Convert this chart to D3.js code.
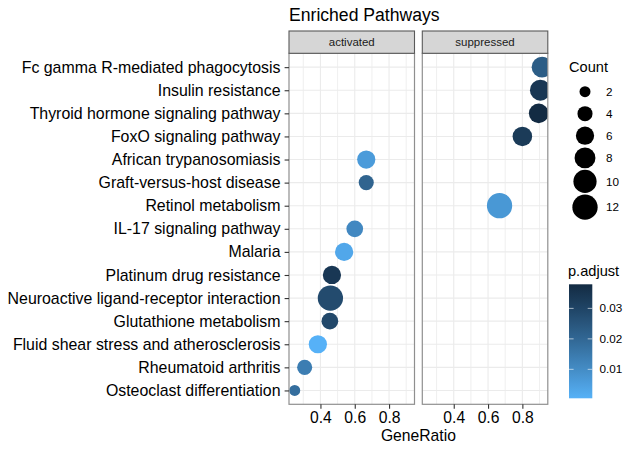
<!DOCTYPE html>
<html>
<head>
<meta charset="utf-8">
<script src="https://cdn.jsdelivr.net/npm/d3@7"></script>
<style>
  html, body { margin: 0; padding: 0; background: #fff; }
  svg { display: block; font-family: "Liberation Sans", Arial, Helvetica, sans-serif; }
</style>
</head>
<body>
<svg id="chart" width="637" height="452"></svg>
<script>
// ---- data ----
const pathways = [
  "Fc gamma R-mediated phagocytosis",
  "Insulin resistance",
  "Thyroid hormone signaling pathway",
  "FoxO signaling pathway",
  "African trypanosomiasis",
  "Graft-versus-host disease",
  "Retinol metabolism",
  "IL-17 signaling pathway",
  "Malaria",
  "Platinum drug resistance",
  "Neuroactive ligand-receptor interaction",
  "Glutathione metabolism",
  "Fluid shear stress and atherosclerosis",
  "Rheumatoid arthritis",
  "Osteoclast differentiation"
];
const groups = ["suppressed","suppressed","suppressed","suppressed","activated","activated","suppressed",
                "activated","activated","activated","activated","activated","activated","activated","activated"];
const geneRatio = [0.915, 0.905, 0.895, 0.8, 0.667, 0.667, 0.667, 0.6, 0.538, 0.467, 0.458, 0.455, 0.385, 0.308, 0.25];
const counts    = [8, 8, 7, 7, 6, 4, 12, 5, 6, 6, 12, 5, 6, 4, 2];
const pAdjust   = [0.023, 0.034, 0.0379, 0.033, 0.006, 0.021, 0.007, 0.011, 0.003, 0.034, 0.028, 0.029, 0.0005, 0.014, 0.018];

const facets = ["activated", "suppressed"];
const xTicks = [0.4, 0.6, 0.8];
const xMinor = [0.3, 0.5, 0.7, 0.9];
const countBreaks = [2, 4, 6, 8, 10, 12];
const pBreaks = [0.01, 0.02, 0.03];
const titleText = "Enriched Pathways";
const xTitle = "GeneRatio";

const data = pathways.map((p, i) => ({
  pathway: p, group: groups[i], ratio: geneRatio[i], count: counts[i], p: pAdjust[i]
}));

// ---- layout ----
const svg = d3.select("#chart");
const panelTop = 53.3, panelBottom = 404.3;
const panelX = [289, 422.3];
const panelW = 125.5;
const stripTop = 31;
const FONT = '"Liberation Sans", Arial, Helvetica, sans-serif';

// scales
const ext = d3.extent(geneRatio);
const pad = (ext[1] - ext[0]) * 0.05;
const x = d3.scaleLinear().domain([ext[0] - pad, ext[1] + pad]).range([0, panelW]);
const y = d3.scalePoint().domain(pathways).range([panelTop, panelBottom]).padding(0.6);
const size = d3.scaleSqrt().domain(d3.extent(counts)).range([0, 1]);
const diam = c => 11 + 14.3 * size(c);
const pExt = d3.extent(pAdjust);
const color = d3.scaleLinear().domain(pExt).range(["#56B1F7", "#132B43"]).interpolate(d3.interpolateLab);

// title
svg.append("text").attr("x", 289).attr("y", 21).attr("font-size", 17.6).attr("fill", "#000").text(titleText);

// panels
facets.forEach((f, fi) => {
  const g = svg.append("g").attr("transform", `translate(${panelX[fi]},0)`);
  g.append("rect").attr("x", 0).attr("y", panelTop).attr("width", panelW).attr("height", panelBottom - panelTop).attr("fill", "#fff");
  g.selectAll(".minor").data(xMinor.filter(v => x(v) > 0 && x(v) < panelW)).enter().append("line")
    .attr("x1", d => x(d)).attr("x2", d => x(d)).attr("y1", panelTop).attr("y2", panelBottom)
    .attr("stroke", "#ebebeb").attr("stroke-width", 0.8);
  g.selectAll(".majx").data(xTicks).enter().append("line")
    .attr("x1", d => x(d)).attr("x2", d => x(d)).attr("y1", panelTop).attr("y2", panelBottom)
    .attr("stroke", "#ebebeb").attr("stroke-width", 1.1);
  g.selectAll(".majy").data(pathways).enter().append("line")
    .attr("x1", 0).attr("x2", panelW).attr("y1", d => y(d)).attr("y2", d => y(d))
    .attr("stroke", "#ebebeb").attr("stroke-width", 1.1);
  const clipId = "clip" + fi;
  g.append("clipPath").attr("id", clipId).append("rect")
    .attr("x", 0).attr("y", panelTop).attr("width", panelW).attr("height", panelBottom - panelTop);
  g.append("g").attr("clip-path", `url(#${clipId})`)
    .selectAll("circle").data(data.filter(d => d.group === f)).enter().append("circle")
    .attr("cx", d => x(d.ratio)).attr("cy", d => y(d.pathway))
    .attr("r", d => diam(d.count) / 2).attr("fill", d => color(d.p));
  g.append("rect").attr("x", 0).attr("y", panelTop).attr("width", panelW).attr("height", panelBottom - panelTop)
    .attr("fill", "none").attr("stroke", "#8f8f8f").attr("stroke-width", 1.2);
  g.append("rect").attr("x", 0).attr("y", stripTop).attr("width", panelW).attr("height", panelTop - stripTop)
    .attr("fill", "#d6d6d6").attr("stroke", "#5a5a5a").attr("stroke-width", 1.1);
  g.append("text").attr("x", panelW / 2).attr("y", (stripTop + panelTop) / 2).attr("dy", "0.35em")
    .attr("text-anchor", "middle").attr("font-size", 11.5).attr("fill", "#1a1a1a").text(f);
  const ax = g.append("g").attr("transform", `translate(0,${panelBottom})`)
    .call(d3.axisBottom(x).tickValues(xTicks).tickFormat(d3.format(".1f")).tickSize(4.4).tickSizeOuter(0));
  ax.select(".domain").remove();
  ax.selectAll(".tick line").attr("stroke", "#333").attr("stroke-width", 1.1);
  ax.selectAll(".tick text").attr("font-family", FONT).attr("font-size", 15.7).attr("fill", "#000").attr("y", 7.5);
});

// y axis
const ay = svg.append("g").attr("transform", `translate(${panelX[0]},0)`)
  .call(d3.axisLeft(y).tickSize(4.4).tickSizeOuter(0));
ay.select(".domain").remove();
ay.selectAll(".tick line").attr("stroke", "#333").attr("stroke-width", 1.1);
ay.selectAll(".tick text").attr("font-family", FONT).attr("font-size", 15.9).attr("fill", "#000").attr("x", -8.5);

// x title
svg.append("text").attr("x", (panelX[0] + panelX[1] + panelW) / 2).attr("y", 441)
  .attr("text-anchor", "middle").attr("font-size", 15.7).attr("fill", "#000").text(xTitle);

// size legend
svg.append("text").attr("x", 569).attr("y", 72).attr("font-size", 14.6).attr("fill", "#000").text("Count");
let cy = 91.7 - 11;
const keyPos = countBreaks.map(c => {
  const h = Math.max(22, diam(c) + 1.5);
  const pos = cy + h / 2; cy += h; return pos;
});
const sl = svg.append("g");
sl.selectAll("circle").data(countBreaks).enter().append("circle")
  .attr("cx", 585).attr("cy", (d, i) => keyPos[i]).attr("r", d => diam(d) / 2).attr("fill", "#000");
sl.selectAll("text").data(countBreaks).enter().append("text")
  .attr("x", 606).attr("y", (d, i) => keyPos[i]).attr("dy", "0.35em")
  .attr("font-size", 11.7).attr("fill", "#000").text(d => d);

// colour legend
svg.append("text").attr("x", 568).attr("y", 276).attr("font-size", 14.6).attr("fill", "#000").text("p.adjust");
const cbTop = 284.3, cbBot = 398.3, cbX = 569, cbW = 23.3;
const cy2 = d3.scaleLinear().domain(pExt).range([cbBot, cbTop]);
const defs = svg.append("defs");
const grad = defs.append("linearGradient").attr("id", "pgrad").attr("x1", 0).attr("x2", 0).attr("y1", 1).attr("y2", 0);
d3.range(0, 1.0001, 0.05).forEach(t => {
  grad.append("stop").attr("offset", t).attr("stop-color", color(pExt[0] + t * (pExt[1] - pExt[0])));
});
svg.append("rect").attr("x", cbX).attr("y", cbTop).attr("width", cbW).attr("height", cbBot - cbTop).attr("fill", "url(#pgrad)");
const cl = svg.append("g");
pBreaks.forEach(b => {
  const yy = cy2(b);
  cl.append("line").attr("x1", cbX).attr("x2", cbX + 4.6).attr("y1", yy).attr("y2", yy).attr("stroke", "#fff").attr("stroke-opacity", 0.6).attr("stroke-width", 1);
  cl.append("line").attr("x1", cbX + cbW - 4.6).attr("x2", cbX + cbW).attr("y1", yy).attr("y2", yy).attr("stroke", "#fff").attr("stroke-opacity", 0.6).attr("stroke-width", 1);
  cl.append("text").attr("x", 599.5).attr("y", yy).attr("dy", "0.35em").attr("font-size", 11.7).attr("fill", "#000").text(b.toFixed(2));
});
</script>
</body>
</html>
